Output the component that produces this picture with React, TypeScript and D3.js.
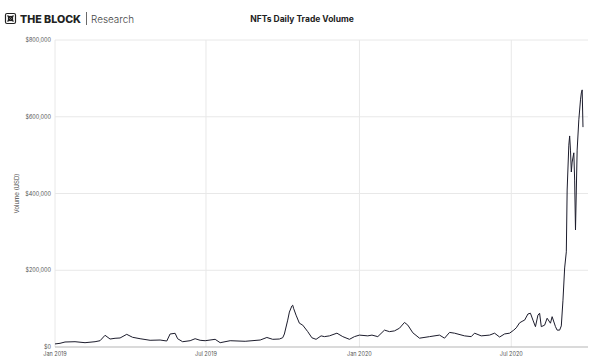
import React from 'react';
import * as d3 from 'd3';

// daily NFT trade volume (USD)
const dates = [
  '2019-01-01', '2019-01-07', '2019-01-13', '2019-01-25', '2019-02-06', '2019-02-18', '2019-02-24',
  '2019-03-02', '2019-03-08', '2019-03-14', '2019-03-20', '2019-03-28', '2019-04-04', '2019-04-13',
  '2019-04-25', '2019-05-07', '2019-05-15', '2019-05-19', '2019-05-25', '2019-05-28', '2019-06-03',
  '2019-06-12', '2019-06-18', '2019-06-24', '2019-06-30', '2019-07-12', '2019-07-18', '2019-07-30',
  '2019-08-17', '2019-09-04', '2019-09-12', '2019-09-19', '2019-09-27', '2019-10-01', '2019-10-03',
  '2019-10-07', '2019-10-09', '2019-10-12', '2019-10-13', '2019-10-14', '2019-10-17', '2019-10-21',
  '2019-10-25', '2019-10-31', '2019-11-05', '2019-11-10', '2019-11-16', '2019-11-20', '2019-11-26',
  '2019-12-05', '2019-12-12', '2019-12-20', '2019-12-26', '2020-01-01', '2020-01-11', '2020-01-16',
  '2020-01-23', '2020-01-31', '2020-02-06', '2020-02-12', '2020-02-18', '2020-02-24', '2020-02-28',
  '2020-03-05', '2020-03-13', '2020-03-25', '2020-04-06', '2020-04-12', '2020-04-18', '2020-04-24',
  '2020-05-06', '2020-05-14', '2020-05-18', '2020-05-26', '2020-06-05', '2020-06-11', '2020-06-17',
  '2020-06-23', '2020-06-29', '2020-07-04', '2020-07-07', '2020-07-11', '2020-07-15', '2020-07-17',
  '2020-07-21', '2020-07-24', '2020-07-27', '2020-07-30', '2020-08-02', '2020-08-04', '2020-08-06',
  '2020-08-10', '2020-08-13', '2020-08-17', '2020-08-19', '2020-08-23', '2020-08-25', '2020-08-28',
  '2020-08-30', '2020-09-01', '2020-09-03', '2020-09-05', '2020-09-06', '2020-09-08', '2020-09-09',
  '2020-09-10', '2020-09-11', '2020-09-12', '2020-09-14', '2020-09-15', '2020-09-16', '2020-09-17',
  '2020-09-18', '2020-09-20', '2020-09-22', '2020-09-23', '2020-09-24', '2020-09-25',
];

const volume = [
  8000, 9600, 13000, 13800, 11200, 13800, 16400,
  30500, 20800, 22700, 23500, 33000, 25300, 21600,
  17500, 18200, 15600, 33900, 35700, 21600, 13800,
  16400, 21600, 17500, 16400, 20000, 11200, 16400,
  14900, 18200, 24800, 20000, 20800, 24200, 33900,
  70000, 91000, 107000, 109000, 101000, 83000, 62000,
  57000, 40000, 24000, 20000, 29000, 27000, 29000,
  36000, 27000, 20000, 27000, 31000, 29000, 31000,
  27000, 44000, 40000, 42000, 49000, 64000, 57000,
  37000, 23000, 27000, 31000, 23000, 38000, 36000,
  29000, 27000, 36000, 29000, 31000, 36000, 26000,
  34000, 36000, 44000, 50000, 63000, 68000, 70000,
  86000, 88000, 70000, 53000, 83000, 88000, 53000,
  57000, 75000, 62000, 79000, 53000, 44000, 44000,
  55000, 122000, 206000, 248000, 409000, 526000, 550000,
  513000, 456000, 482000, 506000, 435000, 305000, 409000,
  513000, 592000, 644000, 662000, 670000, 573000,
];

const yTicks = [0, 200000, 400000, 600000, 800000];
const xTicks = ['2019-01-01', '2019-07-01', '2020-01-01', '2020-07-01'];
const title = 'NFTs Daily Trade Volume';
const yLabel = 'Volume (USD)';

const W = 600;
const H = 364;
const margin = { top: 40, right: 12, bottom: 17, left: 55 };

export default function App() {
  const parse = d3.utcParse('%Y-%m-%d');
  const data = dates.map((d, i) => ({ date: parse(d) as Date, value: volume[i] }));

  const x = d3
    .scaleUtc()
    .domain([parse('2019-01-01') as Date, parse('2020-10-01') as Date])
    .range([margin.left, W - margin.right]);
  const y = d3
    .scaleLinear()
    .domain([0, 800000])
    .range([H - margin.bottom, margin.top]);

  const line = d3
    .line<{ date: Date; value: number }>()
    .x((d) => x(d.date))
    .y((d) => y(d.value));

  const fmtY = (v: number) => '$' + d3.format(',')(v);
  const fmtX = d3.utcFormat('%b %Y');
  const font = 'Inter, "Noto Sans", sans-serif';

  return (
    <svg width={W} height={H} style={{ position: 'absolute', left: 0, top: 0, background: '#fff' }} fontFamily={font}>
      {/* logo */}
      <g transform="translate(5,13)" stroke="#222" fill="none" strokeWidth={1.2}>
        <rect x={0.5} y={0.5} width={10} height={10} rx={1.5} />
        <path d="M2.5 2.5 L8.5 8.5 M8.5 2.5 L2.5 8.5" />
        <rect x={3.5} y={3.5} width={4} height={4} />
      </g>
      <text x={20} y={23} fontSize={10.5} fontWeight={800} fill="#222" textLength={61} lengthAdjust="spacingAndGlyphs">THE BLOCK</text>
      <line x1={86.5} x2={86.5} y1={12} y2={25} stroke="#444" strokeWidth={0.8} />
      <text x={91} y={23} fontSize={10.5} fontWeight={300} fill="#444" textLength={43} lengthAdjust="spacingAndGlyphs">Research</text>

      <text x={302} y={22} fontSize={8.5} fontWeight={700} textAnchor="middle" fill="#222">{title}</text>

      {/* grid */}
      {yTicks.filter((t) => t > 0).map((t) => (
        <line key={t} x1={margin.left} x2={W - margin.right} y1={y(t)} y2={y(t)} stroke="#e8e8e8" strokeWidth={1} />
      ))}
      {xTicks.map((t) => (
        <line key={t} x1={x(parse(t) as Date)} x2={x(parse(t) as Date)} y1={margin.top} y2={y(0)} stroke="#e8e8e8" strokeWidth={1} />
      ))}
      <line x1={margin.left} x2={W - margin.right} y1={y(0)} y2={y(0)} stroke="#b5b5b5" strokeWidth={1.2} />

      {yTicks.map((t) => (
        <text key={t} x={margin.left - 4} y={y(t) + 2} fontSize={5.5} textAnchor="end" fill="#555">{fmtY(t)}</text>
      ))}
      {xTicks.map((t) => (
        <text key={t} x={x(parse(t) as Date)} y={356} fontSize={5.5} textAnchor="middle" fill="#555">{fmtX(parse(t) as Date)}</text>
      ))}
      <text transform={`translate(19,${(margin.top + y(0)) / 2}) rotate(-90)`} fontSize={6} textAnchor="middle" fill="#444">{yLabel}</text>

      <path d={line(data) || ''} fill="none" stroke="#1c1c2c" strokeWidth={1} strokeLinejoin="round" />
    </svg>
  );
}
